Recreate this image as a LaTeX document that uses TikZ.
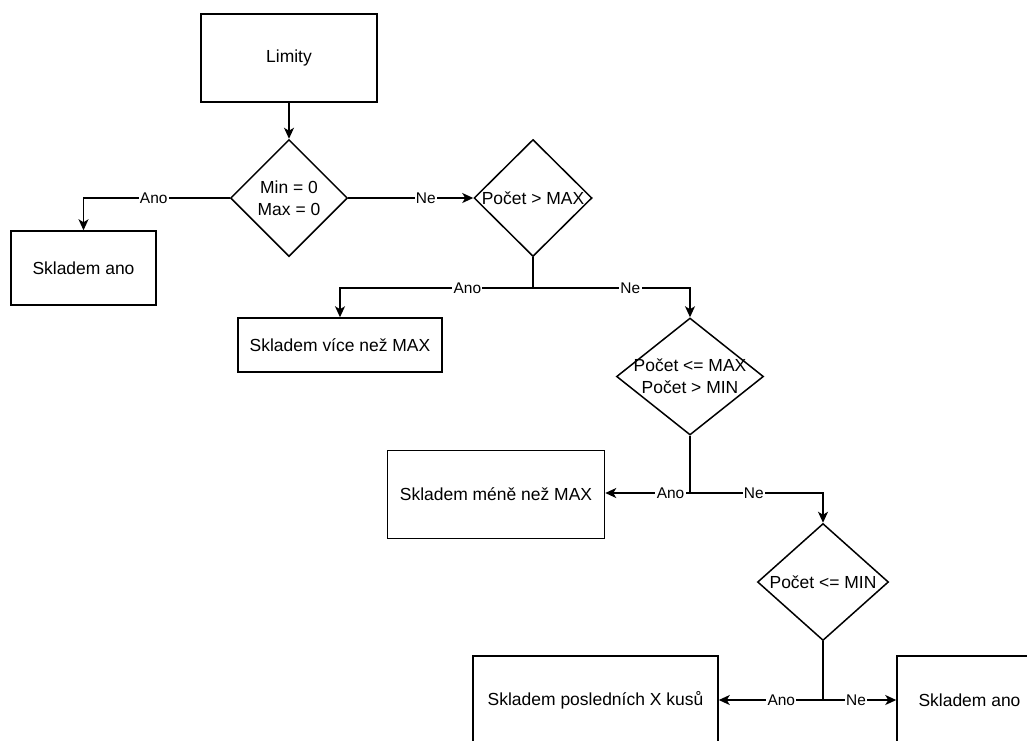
\documentclass[tikz,border=0pt]{standalone}
\usepackage{fontspec}
\setmainfont{Liberation Sans}
\usetikzlibrary{shapes.geometric,arrows.meta}
\newlength{\du}
\setlength{\du}{0.75pt}
\tikzset{
  blok/.style={draw, rectangle, inner sep=0pt, font=\fontsize{13.1}{16.5}\selectfont},
  rozhod/.style={draw, diamond, inner sep=0pt},
  podminka/.style={font=\fontsize{13.1}{16.5}\selectfont, align=center},
  vetev/.style={fill=white, inner sep=1pt, font=\fontsize{11.6}{14}\selectfont},
  sipka/.style={-{Stealth[length=8.25pt,width=7.5pt,inset=2.25pt]}},
}
\begin{document}
\begin{tikzpicture}[line width=1.5\du]
\pgftransformyscale{-1.000000}
\useasboundingbox (0\du,0\du) rectangle (1027\du,740\du);
\clip (0\du,0\du) rectangle (1027\du,740\du);
% bloky
\node[blok, minimum width=176\du, minimum height=88\du] (limity) at (289\du,58\du){Limity};
\node[blok, minimum width=145\du, minimum height=74\du] (sano1) at (83.5\du,268\du){Skladem ano};
\node[blok, minimum width=204\du, minimum height=54\du] (svice) at (340\du,345\du){Skladem více než MAX};
\node[blok, minimum width=217\du, minimum height=88\du] (smene) at (496\du,494.5\du){Skladem méně než MAX};
\node[blok, minimum width=245\du, minimum height=88\du] (sposl) at (595.5\du,700\du){Skladem posledních X kusů};
\node[blok, minimum width=145\du, minimum height=88\du] (sano2) at (969.5\du,700\du){Skladem ano};
% rozhodovani
\node[rozhod, minimum width=117\du, minimum height=117\du,
  label={[podminka]center:{Min = 0\\Max = 0}}] (d1) at (289\du,198\du){};
\node[rozhod, minimum width=118\du, minimum height=117\du,
  label={[podminka]center:{Počet > MAX}}] (d2) at (533\du,198\du){};
\node[rozhod, minimum width=147\du, minimum height=117\du,
  label={[podminka]center:{Počet <= MAX\\Počet > MIN}}] (d3) at (690\du,376.5\du){};
\node[rozhod, minimum width=131\du, minimum height=117\du,
  label={[podminka]center:{Počet <= MIN}}] (d4) at (823\du,582\du){};
% rozcesti
\coordinate (j2) at (533\du,288\du);
\coordinate (j3) at (690\du,493\du);
\coordinate (j4) at (823\du,700\du);
% spoje
\draw[sipka] (limity) -- (d1);
\draw[sipka] (d1.west) -| node[vetev, pos=0.26]{Ano} (sano1.north);
\draw[sipka] (d1.east) -- node[vetev, pos=0.62]{Ne} (d2.west);
\draw (d2.south) -- (j2);
\draw[sipka] (j2) -| node[vetev, pos=0.17]{Ano} (svice.north);
\draw[sipka] (j2) -| node[vetev, pos=0.31]{Ne} (d3.north);
\draw (d3.south) -- (j3);
\draw[sipka] (j3) -- node[vetev, pos=0.23]{Ano} (smene.east |- j3);
\draw[sipka] (j3) -| node[vetev, pos=0.24]{Ne} (d4.north);
\draw (d4.south) -- (j4);
\draw[sipka] (j4) -- node[vetev, pos=0.4]{Ano} (sposl.east |- j4);
\draw[sipka] (j4) -- node[vetev, pos=0.45]{Ne} (sano2.west |- j4);
\end{tikzpicture}
\end{document}
